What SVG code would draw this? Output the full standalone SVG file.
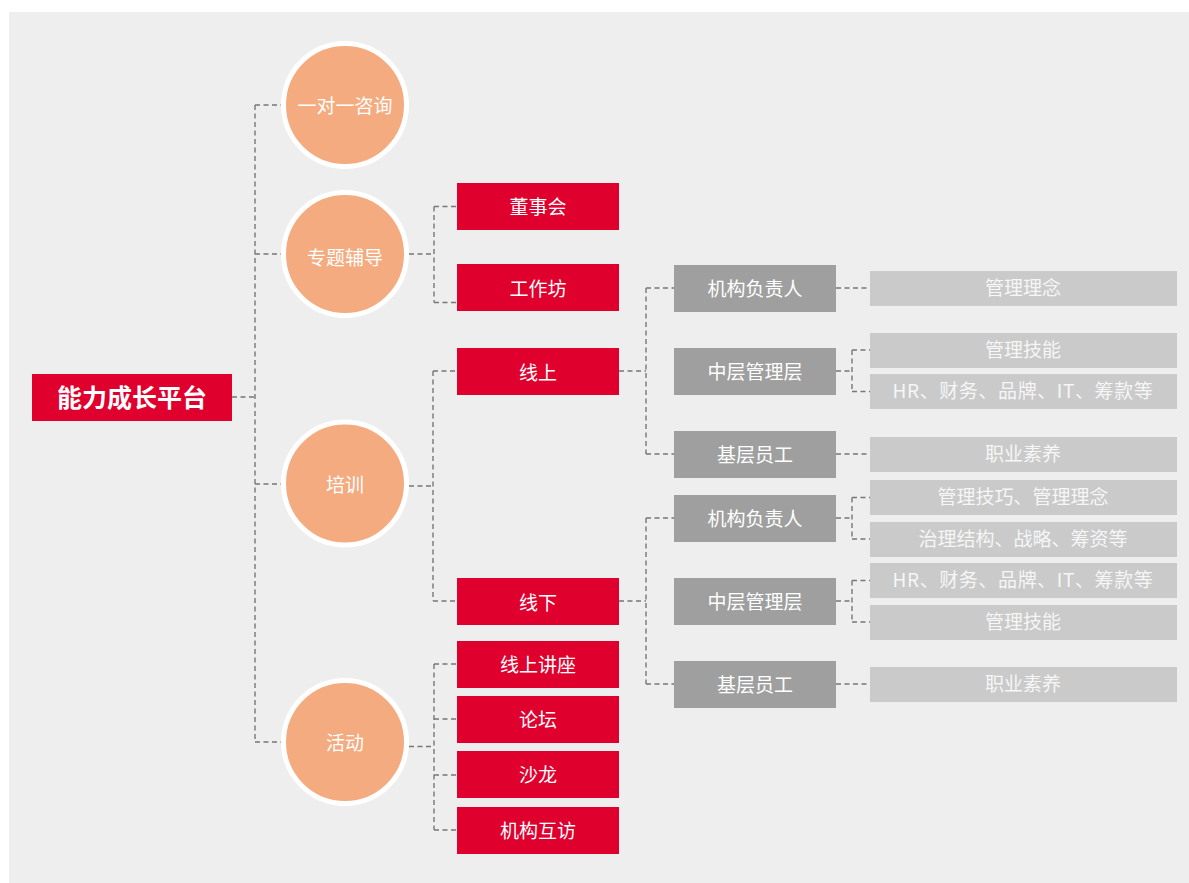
<svg xmlns="http://www.w3.org/2000/svg" width="1189" height="883" viewBox="0 0 1189 883">
<style>
.t{font-family:"Noto Sans CJK SC","Noto Sans",sans-serif;fill:#ffffff;text-anchor:middle;font-size:19px}
.root{font-size:25px;font-weight:bold}
.lt{fill:#f6f6f6}
.circ{fill:#f4ab80;stroke:#ffffff;stroke-width:5}
.red{fill:#e0002e}
.gray{fill:#9e9f9e}
.light{fill:#c9cac9}
.c{fill:none;stroke:#777777;stroke-width:1.4;stroke-dasharray:5 3.5}
</style>
<rect x="9" y="12" width="1180" height="871" fill="#eeeeee"/>
<g id="connectors">
<path class="c" d="M232 397H255M255 105V742M255 105H282M255 254H282M255 484H282M255 742H282"/>
<path class="c" d="M409 254H434M434 206.5V302.5M434 206.5H457M434 302.5H457"/>
<path class="c" d="M409 486H433M433 371V601M433 371H457M433 601H457"/>
<path class="c" d="M409 746.5H434M434 664V830M434 664H457M434 719H457M434 775H457M434 830H457"/>
<path class="c" d="M619 371H646M646 288V454M646 288H674M646 454H674"/>
<path class="c" d="M619 601H646M646 518V684M646 518H674M646 684H674"/>
<path class="c" d="M836 288H870M836 371H852M852 350V391.5M852 350H870M852 391.5H870M836 454H870"/>
<path class="c" d="M836 518H852M852 497.5V539M852 497.5H870M852 539H870M836 601H852M852 580.5V622M852 580.5H870M852 622H870M836 684H870"/>
</g>
<g id="root"><rect class="red" x="32" y="374" width="200" height="47"/><text class="t root" x="132" y="406.5">能力成长平台</text></g>
<g id="c1"><circle class="circ" cx="345" cy="105" r="61.5"/><text class="t" x="345" y="112.5">一对一咨询</text></g>
<g id="c2"><circle class="circ" cx="345" cy="254" r="61.5"/><text class="t" x="345" y="265">专题辅导</text></g>
<g id="c3"><circle class="circ" cx="345" cy="483.5" r="61.5"/><text class="t" x="345" y="491.5">培训</text></g>
<g id="c4"><circle class="circ" cx="345" cy="742" r="61.5"/><text class="t" x="345" y="749.5">活动</text></g>
<g id="r1"><rect class="red" x="457" y="183" width="162" height="47"/><text class="t" x="538" y="213.5">董事会</text></g>
<g id="r2"><rect class="red" x="457" y="264" width="162" height="47"/><text class="t" x="538" y="296">工作坊</text></g>
<g id="r3"><rect class="red" x="457" y="348" width="162" height="47"/><text class="t" x="538" y="380">线上</text></g>
<g id="r4"><rect class="red" x="457" y="578" width="162" height="47"/><text class="t" x="538" y="610">线下</text></g>
<g id="r5"><rect class="red" x="457" y="641" width="162" height="47"/><text class="t" x="538" y="671.5">线上讲座</text></g>
<g id="r6"><rect class="red" x="457" y="696" width="162" height="47"/><text class="t" x="538" y="726.5">论坛</text></g>
<g id="r7"><rect class="red" x="457" y="751" width="162" height="47"/><text class="t" x="538" y="782">沙龙</text></g>
<g id="r8"><rect class="red" x="457" y="807" width="162" height="47"/><text class="t" x="538" y="837.5">机构互访</text></g>
<g id="g1"><rect class="gray" x="674" y="265" width="162" height="47"/><text class="t" x="755" y="295.5">机构负责人</text></g>
<g id="g2"><rect class="gray" x="674" y="348" width="162" height="47"/><text class="t" x="755" y="378.5">中层管理层</text></g>
<g id="g3"><rect class="gray" x="674" y="431" width="162" height="47"/><text class="t" x="755" y="461.5">基层员工</text></g>
<g id="g4"><rect class="gray" x="674" y="495" width="162" height="47"/><text class="t" x="755" y="525.5">机构负责人</text></g>
<g id="g5"><rect class="gray" x="674" y="578" width="162" height="47"/><text class="t" x="755" y="608.5">中层管理层</text></g>
<g id="g6"><rect class="gray" x="674" y="661" width="162" height="47"/><text class="t" x="755" y="691.5">基层员工</text></g>
<g id="l1"><rect class="light" x="870" y="271" width="307" height="35"/><text class="t lt" x="1023" y="295">管理理念</text></g>
<g id="l2"><rect class="light" x="870" y="333" width="307" height="35"/><text class="t lt" x="1023" y="357">管理技能</text></g>
<g id="l3"><rect class="light" x="870" y="374" width="307" height="35"/><text class="t lt" x="1023" y="398" letter-spacing="0.6">HR、财务、品牌、IT、筹款等</text></g>
<g id="l4"><rect class="light" x="870" y="437" width="307" height="35"/><text class="t lt" x="1023" y="461">职业素养</text></g>
<g id="l5"><rect class="light" x="870" y="480" width="307" height="35"/><text class="t lt" x="1023" y="504">管理技巧、管理理念</text></g>
<g id="l6"><rect class="light" x="870" y="522" width="307" height="35"/><text class="t lt" x="1023" y="546">治理结构、战略、筹资等</text></g>
<g id="l7"><rect class="light" x="870" y="563" width="307" height="35"/><text class="t lt" x="1023" y="587" letter-spacing="0.6">HR、财务、品牌、IT、筹款等</text></g>
<g id="l8"><rect class="light" x="870" y="605" width="307" height="35"/><text class="t lt" x="1023" y="629">管理技能</text></g>
<g id="l9"><rect class="light" x="870" y="667" width="307" height="35"/><text class="t lt" x="1023" y="691">职业素养</text></g>
</svg>
